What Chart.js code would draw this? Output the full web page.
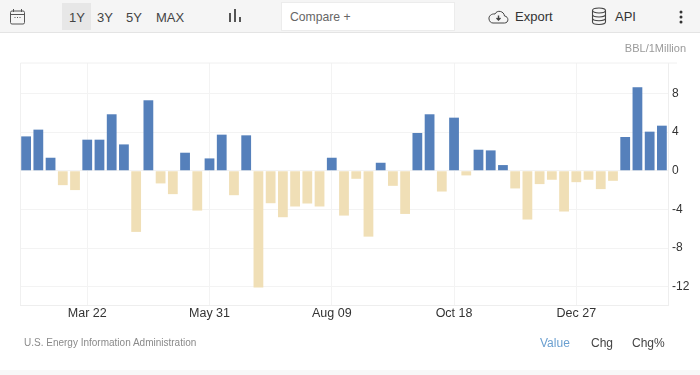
<!DOCTYPE html>
<html><head><meta charset="utf-8">
<script src="https://cdn.jsdelivr.net/npm/chart.js@4"></script>
<style>
html,body{margin:0;padding:0;background:#fff;width:700px;height:375px;overflow:hidden;font-family:"Liberation Sans",Arial,sans-serif}
#wrap{position:relative;width:700px;height:375px}
canvas{position:absolute;left:0;top:0}
#bar{position:absolute;left:0;top:0;width:700px;height:32px;background:#f5f5f5;border-bottom:1px solid #e4e4e4}
.t{position:absolute;white-space:nowrap;line-height:16px}
.b{font-size:13px;color:#444;top:10px}
#active{position:absolute;left:62px;top:3px;width:29px;height:27px;background:#e7e7e7}
#cmp{position:absolute;left:281px;top:2px;width:172px;height:27px;background:#fff;border:1px solid #ececec}
svg{position:absolute}
</style></head><body>
<div id="wrap">
<canvas id="c" width="700" height="375"></canvas>
<div id="bar">
<svg style="left:9px;top:8px" width="18" height="18" viewBox="0 0 18 18" fill="none" stroke="#555" stroke-width="1"><rect x="1.5" y="3" width="14" height="13" rx="1.5"/><path d="M1.5 6.5H15.5M4.5 1V4M12.5 1V4"/><path d="M5.5 9.5H7M8 9.5H9.5M10.5 9.5H12" stroke-dasharray="1 1"/></svg>
<div id="active"></div>
<div class="t b" style="left:69px">1Y</div>
<div class="t b" style="left:97px">3Y</div>
<div class="t b" style="left:126px">5Y</div>
<div class="t b" style="left:156px">MAX</div>
<svg style="left:228px;top:8px" width="16" height="16" viewBox="0 0 16 16" fill="#555"><rect x="1" y="5" width="2" height="9"/><rect x="6" y="1" width="2" height="13"/><rect x="11" y="9" width="2" height="5"/></svg>
<div id="cmp"></div>
<div class="t" style="left:290px;top:9px;font-size:12.2px;color:#666">Compare +</div>
<svg style="left:488px;top:8px" width="21" height="17" viewBox="0 0 21 17" fill="none" stroke="#444" stroke-width="1"><path d="M5 15H16.5C21 15 21 8.5 16.5 8C16 3 9 1.5 7 6C3.5 5.5 0.5 8 1 11C1.3 13.5 3 15 5 15Z"/><path d="M10.5 7.5V12M8.5 10L10.5 12L12.5 10" stroke-width="1.4"/></svg>
<div class="t" style="left:515px;top:9px;font-size:13px;color:#333">Export</div>
<svg style="left:591px;top:7px" width="16" height="19" viewBox="0 0 16 19" fill="none" stroke="#444" stroke-width="1.1"><ellipse cx="8" cy="3.5" rx="6.5" ry="2.5"/><path d="M1.5 3.5V15C1.5 16.5 4.5 17.5 8 17.5S14.5 16.5 14.5 15V3.5M1.5 7.5C1.5 9 4.5 10 8 10S14.5 9 14.5 7.5M1.5 11.3C1.5 12.8 4.5 13.8 8 13.8S14.5 12.8 14.5 11.3"/></svg>
<div class="t" style="left:615px;top:9px;font-size:13px;color:#333">API</div>
<svg style="left:678px;top:10px" width="6" height="14" viewBox="0 0 6 14" fill="#333"><circle cx="3" cy="2" r="1.5"/><circle cx="3" cy="7" r="1.5"/><circle cx="3" cy="12" r="1.5"/></svg>
</div>
<div class="t" style="right:14px;top:40px;font-size:11px;color:#9a9a9a">BBL/1Million</div>
<div class="t" style="left:24px;top:335px;font-size:10px;color:#8a8a8a">U.S. Energy Information Administration</div>
<div class="t" style="left:540px;top:335px;font-size:12px;color:#6a9fd0">Value</div>
<div class="t" style="left:591px;top:335px;font-size:12px;color:#444">Chg</div>
<div class="t" style="left:632px;top:335px;font-size:12px;color:#444">Chg%</div>
<div style="position:absolute;left:0;top:370px;width:700px;height:5px;background:#f8f8f8"></div>
</div>
<script>
const dates = ["Feb 15","Feb 22","Mar 01","Mar 08","Mar 15","Mar 22","Mar 29","Apr 05","Apr 12","Apr 19","Apr 26","May 03","May 10","May 17","May 24","May 31","Jun 07","Jun 14","Jun 21","Jun 28","Jul 05","Jul 12","Jul 19","Jul 26","Aug 02","Aug 09","Aug 16","Aug 23","Aug 30","Sep 06","Sep 13","Sep 20","Sep 27","Oct 04","Oct 11","Oct 18","Oct 25","Nov 01","Nov 08","Nov 15","Nov 22","Nov 29","Dec 06","Dec 13","Dec 20","Dec 27","Jan 03","Jan 10","Jan 17","Jan 24","Jan 31","Feb 07","Feb 14"];
const values = [3.56,4.26,1.35,-1.49,-2.0,3.22,3.22,5.85,2.73,-6.33,7.3,-1.31,-2.42,1.87,-4.12,1.28,3.74,-2.53,3.67,-12.1,-3.36,-4.81,-3.7,-3.39,-3.7,1.35,-4.64,-0.83,-6.82,0.83,-1.56,-4.47,3.91,5.85,-2.15,5.5,-0.48,2.18,2.11,0.59,-1.83,-5.05,-1.38,-0.93,-4.22,-1.18,-0.93,-1.9,-1.04,3.5,8.65,4.05,4.67];
const yTicks = [-12,-8,-4,0,4,8];
const xLabels = ["Mar 22","May 31","Aug 09","Oct 18","Dec 27"];
const yMin = -13.9, yMax = 11.16;
const GRID = "#f3f3f3";
const frame = {id:"frame",beforeDatasetsDraw(ch){const a=ch.chartArea,g=ch.ctx;g.save();g.strokeStyle="#f0f0f0";g.lineWidth=1;
  g.beginPath();g.moveTo(a.left+.5,a.bottom);g.lineTo(a.left+.5,a.top);g.lineTo(a.right+9,a.top);g.stroke();g.restore();}};
new Chart(document.getElementById("c"),{
  type:"bar",
  data:{labels:dates,datasets:[{data:values,
    backgroundColor:values.map(v=>v>=0?"#5580bb":"#f0dfb6"),
    categoryPercentage:1,barPercentage:0.8,borderWidth:0}]},
  plugins:[frame],
  options:{responsive:false,animation:false,
    layout:{padding:{left:20,right:0,top:63,bottom:0}},
    plugins:{legend:{display:false},tooltip:{enabled:false}},
    scales:{
      x:{grid:{offset:false,drawTicks:false,lineWidth:1,
            color:c=>xLabels.includes(dates[c.index])?GRID:"rgba(0,0,0,0)"},
         border:{display:true,color:"#eeeeee"},
         afterFit(s){s.height=70;},
         ticks:{autoSkip:false,maxRotation:0,padding:1,color:"#333",font:{family:"Liberation Sans",size:12.5},
            callback(v,i){return xLabels.includes(dates[i])?dates[i]:"";}}},
      y:{position:"right",min:yMin,max:yMax,
         afterBuildTicks(s){s.ticks=yTicks.map(v=>({value:v}));},
         afterFit(s){s.width=32;},
         grid:{drawTicks:false,color:GRID},
         border:{display:true,color:"#eeeeee"},
         ticks:{padding:4,color:"#333",font:{family:"Liberation Sans",size:12},callback:v=>String(v)}}
    }}
});
</script>
</body></html>
